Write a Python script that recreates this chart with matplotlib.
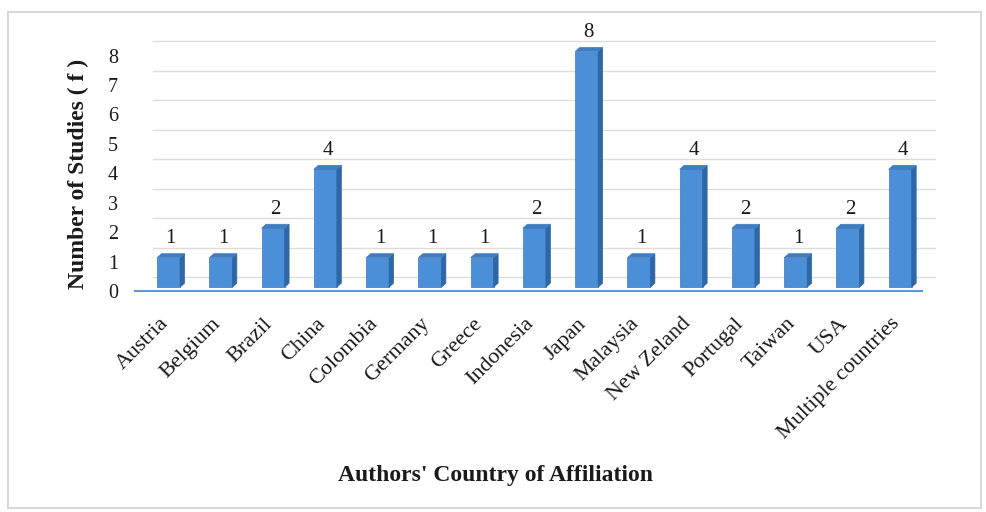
import numpy as np
import matplotlib
matplotlib.use("Agg")
import matplotlib.pyplot as plt
from matplotlib.patches import Polygon, Rectangle
from matplotlib.transforms import ScaledTranslation

plt.rcParams['font.family'] = ['Liberation Serif', 'DejaVu Serif']

# data
countries = ['Austria', 'Belgium', 'Brazil', 'China', 'Colombia', 'Germany', 'Greece',
             'Indonesia', 'Japan', 'Malaysia', 'New Zeland', 'Portugal', 'Taiwan', 'USA',
             'Multiple countries']
studies = [1, 1, 2, 4, 1, 1, 1, 2, 8, 1, 4, 2, 1, 2, 4]
yticks = [0, 1, 2, 3, 4, 5, 6, 7, 8]

W, H = 987, 512
fig = plt.figure(figsize=(W / 100, H / 100), dpi=100)

# axes placed in pixel terms
left, right, bottom, top = 132, 942, 296, 25
ax = fig.add_axes([left / W, 1 - bottom / H, (right - left) / W, (bottom - top) / H])
ax.set_xlim(-0.7, 14.8)
ax.set_ylim(-0.3, 8.9)
for s in ax.spines.values():
    s.set_visible(False)

# back-wall gridlines (3D look: shifted up/right)
for k in yticks:
    ax.plot([-0.3, 14.66], [k + 0.34, k + 0.34], color='#dcdcdc', lw=1.0, zorder=0)
# floor line
ax.plot([-0.64, 14.41], [-0.14, -0.14], color='#5b9bd5', lw=1.5, zorder=1)

x = np.arange(len(countries))
w = 0.44
dx, dy = 0.086, 0.136
ax.bar(x, studies, width=w, color='#4a8fd8', edgecolor='#3a78bd', lw=0.5, zorder=3)
for xi, v in zip(x, studies):
    side = Polygon([(xi + w / 2, 0), (xi + w / 2 + dx, dy), (xi + w / 2 + dx, v + dy),
                    (xi + w / 2, v)], closed=True, fc='#2e66a6', ec='#2e66a6', lw=0.5, zorder=3)
    topf = Polygon([(xi - w / 2, v), (xi - w / 2 + dx, v + dy), (xi + w / 2 + dx, v + dy),
                    (xi + w / 2, v)], closed=True, fc='#3f7cc0', ec='#3f7cc0', lw=0.5, zorder=3)
    ax.add_patch(side)
    ax.add_patch(topf)
    ax.annotate(str(v), (xi + dx / 2, v + dy), xytext=(0, 4), textcoords='offset points',
                ha='center', va='bottom', fontsize=15, color='#1a1a1a')

ax.set_yticks(yticks)
ax.set_yticklabels([str(t) for t in yticks], fontsize=14.5, color='#1a1a1a')
ax.tick_params(axis='y', length=0, pad=10)
off = ScaledTranslation(0, -4 / 100, fig.dpi_scale_trans)
for lab in ax.get_yticklabels():
    lab.set_transform(lab.get_transform() + off)

ax.set_xticks(x)
ax.set_xticklabels(countries, rotation=45, ha='right', va='center', rotation_mode='anchor',
                   fontsize=16, color='#1a1a1a')
ax.tick_params(axis='x', length=0, pad=18)
offx = ScaledTranslation(-3 / 100, 0, fig.dpi_scale_trans)
for lab in ax.get_xticklabels():
    lab.set_transform(lab.get_transform() + offx)

fig.text(78 / W, 1 - 174 / H, 'Number of Studies ( f )', rotation=90, ha='center', va='center',
         fontsize=17, fontweight='bold', color='#1a1a1a')
fig.text(496 / W, 1 - 475 / H, "Authors' Country of Affiliation", ha='center', va='center',
         fontsize=17, fontweight='bold', color='#1a1a1a')

# outer chart frame
fig.patches.append(Rectangle((8 / W, 1 - 508 / H), (981 - 8) / W, (508 - 12) / H,
                             transform=fig.transFigure, fill=False, ec='#d9d9d9', lw=1.5))

fig.savefig('out.png', dpi=100)
